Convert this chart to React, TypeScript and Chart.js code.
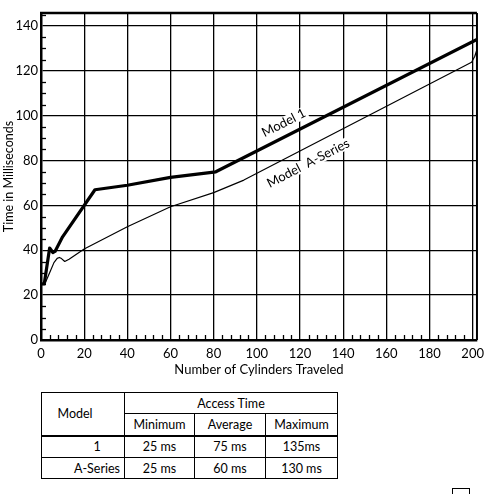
import React, { useEffect, useRef } from "react";
import { Chart, registerables } from "chart.js";

Chart.register(...registerables);

const FONT = "Lato, 'DejaVu Sans', sans-serif";

// Series
const model1X = [0.5, 1.5, 4, 5.5, 6.5, 10, 25, 40, 60, 81, 202];
const model1Y = [25, 25, 41, 39, 39.5, 46, 67, 69, 72.5, 75, 134];
const seriesAX = [0.5, 2, 4, 6, 7.5, 8.5, 9.5, 11, 13, 20, 40, 60, 80, 94, 199.5, 201, 202];
const seriesAY = [25, 25.5, 30, 34.5, 36.4, 36.8, 36.3, 35, 36, 40.6, 50.5, 59.4, 65.7, 71.3, 123.8, 126.5, 129.5];

const seriesNames = ["Model 1", "Model  A-Series"];
const xTitle = "Number of Cylinders Traveled";
const yTitle = "Time in Milliseconds";

// Label anchors in data units (center, and segment giving the angle)
const labelText = ["Model 1", "Model  A-Series"];
const labelAt = [
  { x: 112.5, y: 96.8 },
  { x: 123.8, y: 78.8 },
];
const labelAlong = [
  [81, 75, 202, 134],
  [94, 71.3, 199.5, 123.8],
];

// Table
const tableModels = ["1", "A-Series"];
const tableCols = ["Minimum", "Average", "Maximum"];
const tableRows = [
  ["25 ms", "75 ms", "135ms"],
  ["25 ms", "60 ms", "130 ms"],
];

const labelGeom = (chart: any, i: number) => {
  const { x, y } = chart.scales;
  const px = x.getPixelForValue(labelAt[i].x);
  const py = y.getPixelForValue(labelAt[i].y);
  const s = labelAlong[i];
  const a = Math.atan2(
    y.getPixelForValue(s[3]) - y.getPixelForValue(s[1]),
    x.getPixelForValue(s[2]) - x.getPixelForValue(s[0])
  );
  return { px, py, a };
};

const LABEL_FONT = `13px ${FONT}`;

const decorPlugin = {
  id: "decor",
  beforeDatasetsDraw(chart: any) {
    const ctx = chart.ctx;
    ctx.save();
    ctx.font = LABEL_FONT;
    labelText.forEach((t, i) => {
      const { px, py, a } = labelGeom(chart, i);
      const w = ctx.measureText(t).width;
      ctx.save();
      ctx.translate(px, py);
      ctx.rotate(a);
      ctx.fillStyle = "#fff";
      ctx.fillRect(-w / 2 - 2, -6, w + 4, 12);
      ctx.restore();
    });
    ctx.restore();
  },
  afterDatasetsDraw(chart: any) {
    const ctx = chart.ctx;
    const { x, y } = chart.scales;
    const ca = chart.chartArea;
    ctx.save();
    ctx.strokeStyle = "#000";
    ctx.lineWidth = 1.3;
    // minor ticks x (every 4)
    for (let v = 4; v < x.max; v += 4) {
      if (v % 20 === 0) continue;
      const p = Math.round(x.getPixelForValue(v)) + 0.5;
      ctx.beginPath();
      ctx.moveTo(p, ca.bottom);
      ctx.lineTo(p, ca.bottom - 5);
      ctx.stroke();
    }
    // minor ticks y (every 5)
    for (let v = 5; v < y.max; v += 5) {
      if (v % 20 === 0) continue;
      const p = Math.round(y.getPixelForValue(v)) + 0.5;
      ctx.beginPath();
      ctx.moveTo(ca.left, p);
      ctx.lineTo(ca.left + 5, p);
      ctx.stroke();
    }
    // top and right borders
    ctx.lineWidth = 2.5;
    ctx.beginPath();
    ctx.moveTo(ca.left - 1, ca.top);
    ctx.lineTo(ca.right, ca.top);
    ctx.stroke();
    ctx.lineWidth = 2;
    ctx.beginPath();
    ctx.moveTo(ca.right, ca.top);
    ctx.lineTo(ca.right, ca.bottom);
    ctx.stroke();
    // labels
    ctx.font = LABEL_FONT;
    ctx.fillStyle = "#000";
    ctx.textAlign = "center";
    ctx.textBaseline = "middle";
    labelText.forEach((t, i) => {
      const { px, py, a } = labelGeom(chart, i);
      ctx.save();
      ctx.translate(px, py);
      ctx.rotate(a);
      ctx.fillText(t, 0, 0);
      ctx.restore();
    });
    ctx.restore();
  },
};

function ChartBox() {
  const ref = useRef<HTMLCanvasElement>(null);
  useEffect(() => {
    if (!ref.current) return;
    const chart = new Chart(ref.current, {
      type: "line",
      data: {
        datasets: [
          {
            label: seriesNames[0],
            data: model1X.map((v, i) => ({ x: v, y: model1Y[i] })),
            borderColor: "#000",
            borderWidth: 3.2,
            pointRadius: 0,
            tension: 0,
            fill: false,
            borderJoinStyle: "round",
          },
          {
            label: seriesNames[1],
            data: seriesAX.map((v, i) => ({ x: v, y: seriesAY[i] })),
            borderColor: "#000",
            borderWidth: 1.2,
            pointRadius: 0,
            tension: 0,
            borderJoinStyle: "round",
            fill: false,
          },
        ],
      },
      options: {
        animation: false,
        responsive: true,
        maintainAspectRatio: false,
        layout: { padding: { left: 0, top: 13, right: 4, bottom: 0 } },
        plugins: { legend: { display: false }, tooltip: { enabled: false } },
        scales: {
          x: {
            type: "linear",
            min: 0,
            max: 202,
            afterFit: (s: any) => {
              s.height = 40;
            },
            ticks: {
              stepSize: 20,
              includeBounds: false,
              color: "#000",
              padding: 6,
              maxRotation: 0,
              font: { family: FONT, size: 13 },
            },
            grid: { color: "#000", lineWidth: 1.3, drawTicks: false },
            border: { display: true, color: "#000", width: 2.5 },
            title: {
              display: true,
              text: xTitle,
              color: "#000",
              font: { family: FONT, size: 13 },
              padding: { top: 0, bottom: 2 },
            },
          },
          y: {
            type: "linear",
            min: 0,
            max: 145.8,
            afterFit: (s: any) => {
              s.width = 41;
            },
            ticks: {
              stepSize: 20,
              includeBounds: false,
              color: "#000",
              padding: 3,
              font: { family: FONT, size: 13 },
            },
            grid: { color: "#000", lineWidth: 1.3, drawTicks: false },
            border: { display: true, color: "#000", width: 2.5 },
            title: {
              display: true,
              text: yTitle,
              color: "#000",
              font: { family: FONT, size: 12.5 },
              padding: { top: 1, bottom: 0 },
            },
          },
        },
      },
      plugins: [decorPlugin],
    } as any);
    return () => chart.destroy();
  }, []);
  return (
    <div style={{ position: "absolute", left: 0, top: 0, width: 490, height: 380 }}>
      <canvas ref={ref} />
    </div>
  );
}

const cell = (extra: any = {}) => ({
  border: "1.5px solid #000",
  padding: 0,
  textAlign: "center" as const,
  verticalAlign: "middle" as const,
  ...extra,
});

export default function App() {
  return (
    <div
      style={{
        position: "absolute",
        left: 0,
        top: 0,
        width: 490,
        height: 494,
        background: "#fff",
        overflow: "hidden",
        fontFamily: FONT,
      }}
    >
      <ChartBox />
      <table
        style={{
          position: "absolute",
          left: 41,
          top: 392,
          width: 296,
          borderCollapse: "collapse",
          tableLayout: "fixed",
          fontFamily: FONT,
          fontSize: 12.5,
          color: "#000",
        }}
      >
        <colgroup>
          <col style={{ width: 83 }} />
          <col style={{ width: 70 }} />
          <col style={{ width: 71 }} />
          <col style={{ width: 72 }} />
        </colgroup>
        <tbody>
          <tr style={{ height: 21 }}>
            <td rowSpan={2} style={cell({ paddingRight: 16, borderBottom: "2.5px solid #000" })}>
              Model
            </td>
            <td colSpan={3} style={cell()}>
              Access Time
            </td>
          </tr>
          <tr style={{ height: 22 }}>
            {tableCols.map((c) => (
              <td key={c} style={cell({ borderBottom: "2.5px solid #000" })}>
                {c}
              </td>
            ))}
          </tr>
          {tableModels.map((m, r) => (
            <tr key={m} style={{ height: r === 0 ? 22 : 21 }}>
              <td style={cell({ paddingLeft: 28 })}>{m}</td>
              {tableRows[r].map((v, j) => (
                <td key={j} style={cell()}>
                  {v}
                </td>
              ))}
            </tr>
          ))}
        </tbody>
      </table>
      <div
        style={{
          position: "absolute",
          left: 452,
          top: 488,
          width: 18,
          height: 8,
          border: "1px solid #000",
          boxSizing: "border-box",
        }}
      />
    </div>
  );
}
